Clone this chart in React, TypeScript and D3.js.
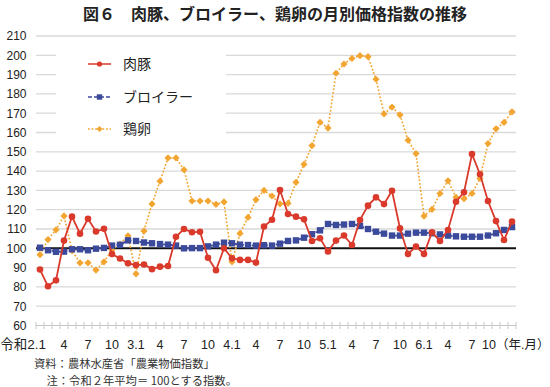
import { useEffect, useRef } from "react";
import * as d3 from "d3";

// 令和2年1月〜令和6年12月（60か月）
const pork = [
  89.0, 80.3, 83.4, 104.0, 116.4, 107.6, 115.3, 108.7, 110.1, 97.0, 94.7, 92.2,
  91.3, 91.6, 89.2, 90.5, 90.8, 106.0, 110.0, 108.3, 108.6, 95.1, 88.6, 100.0,
  94.8, 94.0, 94.0, 92.6, 111.3, 114.8, 130.2, 117.8, 116.4, 115.0, 103.8, 105.2,
  98.4, 104.0, 106.6, 101.7, 114.7, 122.1, 126.4, 122.9, 129.8, 110.3, 97.1, 100.9,
  97.1, 108.3, 103.8, 109.5, 124.1, 129.0, 148.8, 138.4, 124.5, 114.1, 104.3, 113.8,
];
const broiler = [
  100.3, 99.0, 98.2, 98.3, 99.5, 99.5, 99.0, 99.8, 100.2, 101.4, 101.8, 104.1,
  103.8, 103.0, 102.6, 102.2, 101.9, 101.4, 100.0, 100.1, 100.1, 101.0, 101.9, 102.9,
  102.6, 101.9, 101.7, 101.4, 101.6, 101.4, 102.4, 103.8, 104.1, 105.5, 107.3, 109.3,
  112.6, 112.1, 112.3, 112.6, 111.6, 110.0, 108.6, 107.6, 106.6, 106.6, 107.6, 108.1,
  108.1, 107.8, 107.2, 106.6, 106.2, 106.0, 106.0, 106.0, 106.6, 107.8, 109.5, 111.0,
];
const eggs = [
  96.7, 104.5, 109.6, 116.8, 98.8, 92.5, 92.5, 88.7, 93.0, 99.3, 102.2, 106.5,
  86.8, 109.0, 123.0, 134.8, 146.8, 146.8, 140.7, 124.5, 124.5, 124.5, 122.8, 124.0,
  93.0, 107.7, 116.0, 125.2, 130.0, 127.1, 123.0, 123.3, 134.2, 143.5, 153.2, 165.3,
  162.3, 190.7, 195.5, 198.4, 199.8, 199.3, 187.6, 169.6, 173.2, 169.1, 156.0, 149.1,
  116.7, 120.2, 128.4, 135.0, 126.4, 125.7, 128.4, 136.2, 154.3, 161.9, 165.2, 170.7,
];

// 3か月おきの目盛りラベル
const tickLabels = [
  "令和2.1", "4", "7", "10", "3.1", "4", "7", "10", "4.1", "4",
  "7", "10", "5.1", "4", "7", "10", "6.1", "4", "7", "10",
];
const yTicks = [60, 70, 80, 90, 100, 110, 120, 130, 140, 150, 160, 170, 180, 190, 200, 210];

const seriesNames = ["肉豚", "ブロイラー", "鶏卵"];
const COLORS = ["#d93a2b", "#3c4a9c", "#f2a531"];

const W = 550;
const H = 387;
const NUM_FONT = "'Liberation Sans', 'Noto Sans CJK JP', sans-serif";
const JP_FONT = "'Noto Sans CJK JP', sans-serif";

export default function App() {
  const svgRef = useRef<SVGSVGElement>(null);

  useEffect(() => {
    if (!svgRef.current) return;
    const svg = d3.select(svgRef.current);
    svg.selectAll("*").remove();

    const left = 36;
    const right = 516;
    const x = d3.scaleBand<number>().domain(d3.range(pork.length)).range([left, right]);
    const xc = (i: number) => (x(i) || 0) + x.bandwidth() / 2;
    const y = d3.scaleLinear().domain([60, 210]).range([325.5, 36]);

    svg.append("rect").attr("width", W).attr("height", H).attr("fill", "#fff");

    // タイトル
    svg.append("text")
      .attr("x", 275)
      .attr("y", 19.5)
      .attr("text-anchor", "middle")
      .attr("font-family", JP_FONT)
      .attr("font-size", 16)
      .attr("font-weight", 700)
      .attr("fill", "#222")
      .text("図６　肉豚、ブロイラー、鶏卵の月別価格指数の推移");

    // 目盛線
    svg.append("g")
      .selectAll("line")
      .data(yTicks.filter((t) => t !== 60 && t !== 100))
      .enter()
      .append("line")
      .attr("x1", left)
      .attr("x2", right)
      .attr("y1", (d) => y(d))
      .attr("y2", (d) => y(d))
      .attr("stroke", "#d9d9d9")
      .attr("stroke-width", 1.3);

    svg.append("g")
      .selectAll("text")
      .data(yTicks)
      .enter()
      .append("text")
      .attr("x", 26.5)
      .attr("y", (d) => y(d) + 4.3)
      .attr("text-anchor", "end")
      .attr("font-family", NUM_FONT)
      .attr("font-size", 12)
      .attr("fill", "#222")
      .text((d) => d);

    // 横軸（60の線）と月ごとの目盛
    svg.append("line")
      .attr("x1", left)
      .attr("x2", right)
      .attr("y1", y(60))
      .attr("y2", y(60))
      .attr("stroke", "#c8c8c8")
      .attr("stroke-width", 1.2);
    svg.append("g")
      .selectAll("line")
      .data(d3.range(pork.length + 1))
      .enter()
      .append("line")
      .attr("x1", (i) => left + i * x.bandwidth())
      .attr("x2", (i) => left + i * x.bandwidth())
      .attr("y1", y(60) - 3.5)
      .attr("y2", y(60) + 3.5)
      .attr("stroke", "#c8c8c8")
      .attr("stroke-width", 1);

    const labelG = svg.append("g")
      .attr("font-family", NUM_FONT)
      .attr("font-size", 12.5)
      .attr("fill", "#222");
    tickLabels.forEach((lab, k) => {
      const i = k * 3;
      if (k === 0) {
        labelG.append("text").attr("x", xc(i) + 6).attr("y", 349).attr("text-anchor", "end")
          .attr("font-size", 13.5).text(lab);
      } else if (k === tickLabels.length - 1) {
        labelG.append("text").attr("x", xc(i) - 14).attr("y", 349).attr("text-anchor", "start")
          .text(lab + "（年.月）");
      } else {
        labelG.append("text").attr("x", xc(i)).attr("y", 349).attr("text-anchor", "middle").text(lab);
      }
    });

    // 100の基準線
    svg.append("line")
      .attr("x1", left)
      .attr("x2", right)
      .attr("y1", y(100))
      .attr("y2", y(100))
      .attr("stroke", "#111")
      .attr("stroke-width", 2);

    const line = d3.line<number>().x((_, i) => xc(i)).y((d) => y(d));

    // 鶏卵（点線・ひし形）
    svg.append("path")
      .datum(eggs)
      .attr("d", line)
      .attr("fill", "none")
      .attr("stroke", COLORS[2])
      .attr("stroke-width", 1.6)
      .attr("stroke-dasharray", "1.8 1.8");
    const diamond = d3.symbol().type(d3.symbolSquare).size(26);
    svg.append("g")
      .selectAll("path")
      .data(eggs)
      .enter()
      .append("path")
      .attr("d", diamond)
      .attr("transform", (d, i) => `translate(${xc(i)},${y(d)}) rotate(45)`)
      .attr("fill", COLORS[2]);

    // ブロイラー（破線・四角）
    svg.append("path")
      .datum(broiler)
      .attr("d", line)
      .attr("fill", "none")
      .attr("stroke", COLORS[1])
      .attr("stroke-width", 1.8)
      .attr("stroke-dasharray", "4 2");
    svg.append("g")
      .selectAll("rect")
      .data(broiler)
      .enter()
      .append("rect")
      .attr("x", (d, i) => xc(i) - 3.2)
      .attr("y", (d) => y(d) - 3.2)
      .attr("width", 6.4)
      .attr("height", 6.4)
      .attr("fill", COLORS[1]);

    // 肉豚（実線・丸）
    svg.append("path")
      .datum(pork)
      .attr("d", line)
      .attr("fill", "none")
      .attr("stroke", COLORS[0])
      .attr("stroke-width", 1.8);
    svg.append("g")
      .selectAll("circle")
      .data(pork)
      .enter()
      .append("circle")
      .attr("cx", (d, i) => xc(i))
      .attr("cy", (d) => y(d))
      .attr("r", 3.3)
      .attr("fill", COLORS[0]);

    // 凡例
    const leg = svg.append("g");
    leg.append("rect").attr("x", 56).attr("y", 42).attr("width", 170).attr("height", 102).attr("fill", "#fff");
    const legY = [64, 97, 129];
    seriesNames.forEach((name, k) => {
      const g = leg.append("g").attr("transform", `translate(0,${legY[k]})`);
      const ln = g.append("line")
        .attr("x1", 88)
        .attr("x2", 111)
        .attr("stroke", COLORS[k])
        .attr("stroke-width", k === 2 ? 1.4 : 1.5);
      if (k === 1) ln.attr("stroke-dasharray", "4 2");
      if (k === 2) ln.attr("stroke-dasharray", "1.8 1.8");
      if (k === 0) g.append("circle").attr("cx", 99.5).attr("r", 2.6).attr("fill", COLORS[0]);
      if (k === 1) g.append("rect").attr("x", 96.8).attr("y", -2.7).attr("width", 5.4).attr("height", 5.4).attr("fill", COLORS[1]);
      if (k === 2) g.append("path").attr("d", d3.symbol().type(d3.symbolSquare).size(18)).attr("transform", "translate(99.5,0) rotate(45)").attr("fill", COLORS[2]);
      g.append("text")
        .attr("x", 123)
        .attr("y", 5)
        .attr("font-family", JP_FONT)
        .attr("font-size", 14)
        .attr("fill", "#222")
        .text(name);
    });

    // 注記
    const note = svg.append("g")
      .attr("font-family", JP_FONT)
      .attr("font-size", 11.3)
      .attr("fill", "#333");
    note.append("text").attr("x", 34).attr("y", 368).text("資料：農林水産省「農業物価指数」");
    note.append("text").attr("x", 46.5).attr("y", 385).text("注：令和２年平均＝ 100とする指数。");
  }, []);

  return (
    <svg
      ref={svgRef}
      width={W}
      height={H}
      viewBox={`0 0 ${W} ${H}`}
      style={{ position: "absolute", left: 0, top: 0, display: "block" }}
    />
  );
}
